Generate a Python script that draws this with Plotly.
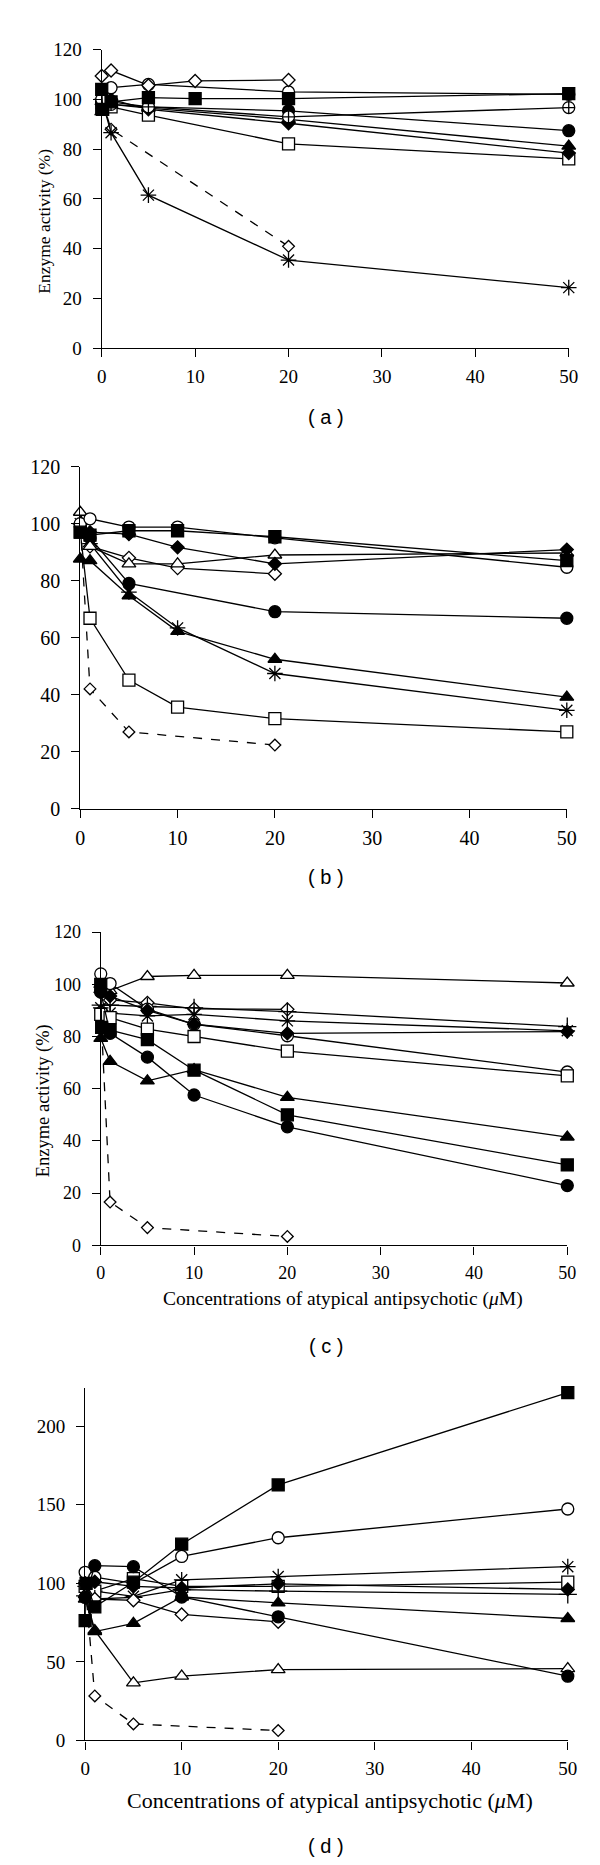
import plotly.graph_objects as go

# Concentrations (uM)
CONC = [0, 0.1, 1, 5, 10, 20, 50]
X_TICKS = [0, 10, 20, 30, 40, 50]
Y_TICKS_ABC = [0, 20, 40, 60, 80, 100, 120]
Y_TICKS_D = [0, 50, 100, 150, 200]

# ---- Panel (a) ----
a_dash_diamond = [100, None, 88, None, None, 40.9, None]
a_asterisk = [100, None, 86.6, 61.5, None, 35.4, 24.3]
a_open_square = [97, None, 97, 93.7, None, 82.1, 76.1]
a_filled_square = [104, 96, 99, 100.7, 100.3, 100.3, 102.3]
a_open_circle = [100, None, 104.7, 106, None, 103, 102]
a_circle_cross = [97, None, 98, 97, None, 93, 96.7]
a_filled_circle = [99, None, 99, 97, None, 95.4, 87.4]
a_filled_triangle = [95, None, 98, 96.5, None, 92, 81.2]
a_filled_diamond = [98, None, 100, 96, None, 90.4, 78.4]
a_open_diamond = [109.4, None, 111.6, 105.6, 107.4, 107.8, None]

# ---- Panel (b) ----
b_dash_diamond = [100, None, 42, 26.9, None, 22.3, None]
b_open_square = [97, None, 66.8, 45.1, 35.6, 31.6, 26.9]
b_asterisk = [100, None, 93, 76, 63.4, 47.4, 34.5]
b_filled_triangle = [87.6, None, 87, 74.7, 62.2, 52.4, 39.1]
b_filled_circle = [99, None, 95, 79, None, 69.1, 66.8]
b_open_diamond = [100, None, 92, 88, 84.4, 82.4, None]
b_open_triangle = [104, None, 92, 85.9, 85.9, 89, 89.7]
b_filled_diamond = [100, None, 97, 96.3, 91.7, 85.9, 90.9]
b_filled_square = [97, None, 96, 97.5, 97.5, 95.4, 87]
b_open_circle = [100, None, 101.7, 98.8, 98.8, 95, 84.7]

# ---- Panel (c) ----
c_dash_diamond = [90, None, 16.6, 6.8, None, 3.4, None]
c_open_triangle = [100, None, 97.6, 103, 103.4, 103.4, 100.5]
c_open_diamond = [97, None, 94, 92.9, 90.6, 90.4, None]
c_cross = [92, None, 92, 91.5, 91, 89.5, 83.8]
c_asterisk = [91, None, 89, 87.9, 88.5, 86, 82.2]
c_filled_diamond = [97, None, 95.5, 90, 84.7, 81.2, 81.9]
c_open_circle = [104, None, 100.3, 90.5, 84.7, 80.3, 66.4]
c_open_square = [88.5, None, 87.2, 82.8, 80, 74.4, 64.9]
c_filled_square = [100, 83.5, 82.4, 78.8, 67.1, 50, 30.8]
c_filled_circle = [97, None, 81.2, 72.1, 57.6, 45.4, 22.9]
c_filled_triangle = [79.3, None, 70.5, 63, 67.3, 56.7, 41.5]

# ---- Panel (d) ----
d_dash_diamond = [100, None, 28.3, 10.5, None, 6.3, None]
d_filled_square = [76.2, 100, 85, 100.7, 124.9, 162.6, 221.4]
d_open_circle = [107, None, 103.9, 100, 117.1, 129, 147.3]
d_asterisk = [98, None, 95, 91.7, 102.2, 104.3, 110.6]
d_open_square = [98, None, 95, 103, 98, 98, 100.7]
d_filled_diamond = [100, None, 101, 98, 97, 99.7, 96.1]
d_cross = [92, None, 90, 91, 96, 95, 93]
d_filled_circle = [91, None, 111.2, 110.6, 91.3, 78.7, 40.9]
d_filled_triangle = [90, None, 69.3, 74.5, 91.3, 87.5, 77.6]
d_open_triangle = [93, None, 70, 36.7, 40.9, 45.1, 45.7]
d_open_diamond = [100, None, 90, 89.2, 80.2, 75.5, None]

STYLES = {
    "dash_diamond": dict(symbol="diamond", color="white", size=9, dash="dash"),
    "asterisk": dict(symbol="asterisk-open", color="black", size=13, dash="solid"),
    "cross": dict(symbol="cross-thin-open", color="black", size=13, dash="solid"),
    "open_square": dict(symbol="square", color="white", size=12, dash="solid"),
    "filled_square": dict(symbol="square", color="black", size=12, dash="solid"),
    "open_circle": dict(symbol="circle", color="white", size=12, dash="solid"),
    "circle_cross": dict(symbol="circle-cross", color="white", size=12, dash="solid"),
    "filled_circle": dict(symbol="circle", color="black", size=12, dash="solid"),
    "filled_triangle": dict(symbol="triangle-up", color="black", size=12, dash="solid"),
    "open_triangle": dict(symbol="triangle-up", color="white", size=12, dash="solid"),
    "filled_diamond": dict(symbol="diamond", color="black", size=10, dash="solid"),
    "open_diamond": dict(symbol="diamond", color="white", size=10, dash="solid"),
}

PANELS = [
    ("a", [("dash_diamond", a_dash_diamond), ("asterisk", a_asterisk), ("open_square", a_open_square),
           ("filled_circle", a_filled_circle), ("filled_triangle", a_filled_triangle),
           ("filled_diamond", a_filled_diamond), ("circle_cross", a_circle_cross),
           ("open_circle", a_open_circle), ("open_diamond", a_open_diamond),
           ("filled_square", a_filled_square)]),
    ("b", [("dash_diamond", b_dash_diamond), ("open_square", b_open_square), ("asterisk", b_asterisk),
           ("filled_triangle", b_filled_triangle), ("filled_circle", b_filled_circle),
           ("open_diamond", b_open_diamond), ("open_triangle", b_open_triangle),
           ("filled_diamond", b_filled_diamond), ("open_circle", b_open_circle),
           ("filled_square", b_filled_square)]),
    ("c", [("dash_diamond", c_dash_diamond), ("open_triangle", c_open_triangle),
           ("open_diamond", c_open_diamond), ("cross", c_cross), ("asterisk", c_asterisk),
           ("open_circle", c_open_circle), ("filled_diamond", c_filled_diamond),
           ("open_square", c_open_square), ("filled_square", c_filled_square),
           ("filled_circle", c_filled_circle), ("filled_triangle", c_filled_triangle)]),
    ("d", [("dash_diamond", d_dash_diamond), ("open_circle", d_open_circle), ("asterisk", d_asterisk),
           ("open_square", d_open_square), ("cross", d_cross), ("filled_diamond", d_filled_diamond),
           ("open_triangle", d_open_triangle), ("open_diamond", d_open_diamond),
           ("filled_triangle", d_filled_triangle), ("filled_circle", d_filled_circle),
           ("filled_square", d_filled_square)]),
]

W, H = 600, 1865
# plot-area boxes in pixels: (x_left, x_right, y_top, y_bottom)
BOXES = {
    "a": (91, 570, 31, 333),
    "b": (69, 568, 453, 799),
    "c": (90, 568.5, 924, 1241),
    "d": (74, 569, 1385, 1742),
}
Y_RANGES = {"a": [0, 120], "b": [0, 120], "c": [0, 120], "d": [0, 224.5]}
Y_TICKVALS = {"a": Y_TICKS_ABC, "b": Y_TICKS_ABC, "c": Y_TICKS_ABC, "d": Y_TICKS_D}
TICK_FONT = {"a": 19, "b": 20, "c": 18, "d": 19}

SERIF = "Liberation Serif, Times New Roman, serif"
SANS = "Liberation Sans, Arial, sans-serif"

fig = go.Figure()
layout = dict(width=W, height=H, margin=dict(l=0, r=0, t=0, b=0),
              paper_bgcolor="white", plot_bgcolor="white", showlegend=False)

for i, (name, series) in enumerate(PANELS, start=1):
    xs = "x" if i == 1 else f"x{i}"
    ys = "y" if i == 1 else f"y{i}"
    for key, vals in series:
        st = STYLES[key]
        fig.add_trace(go.Scatter(
            x=CONC, y=vals, xaxis=xs, yaxis=ys, mode="lines+markers",
            connectgaps=True, cliponaxis=False,
            line=dict(color="black", width=1.3, dash=st["dash"]),
            marker=dict(symbol=st["symbol"], color=st["color"], size=st["size"],
                        line=dict(color="black", width=1.3)),
        ))
    xl, xr, yt, yb = BOXES[name]
    axkey = "xaxis" if i == 1 else f"xaxis{i}"
    aykey = "yaxis" if i == 1 else f"yaxis{i}"
    layout[axkey] = dict(
        domain=[xl / W, xr / W], anchor=ys, range=[0, 50], tickvals=X_TICKS,
        showline=True, linecolor="black", linewidth=1.3, ticks="outside",
        ticklen=8, tickwidth=1.3, tickcolor="black", showgrid=False, zeroline=False,
        ticklabelstandoff=3,
        tickfont=dict(family=SERIF, size=TICK_FONT[name], color="black"),
    )
    layout[aykey] = dict(
        domain=[1 - yb / H, 1 - yt / H], anchor=xs, range=Y_RANGES[name],
        tickvals=Y_TICKVALS[name],
        showline=True, linecolor="black", linewidth=1.3, ticks="outside",
        ticklen=8, tickwidth=1.3, tickcolor="black", showgrid=False, zeroline=False,
        ticklabelstandoff=7,
        tickfont=dict(family=SERIF, size=TICK_FONT[name], color="black"),
    )

fig.update_layout(**layout)

annotations = []
# panel labels
for label, py in [("a", 403), ("b", 868), ("c", 1343), ("d", 1849)]:
    annotations.append(dict(text=f"( {label} )", x=321 / W, y=1 - py / H, xref="paper", yref="paper",
                            showarrow=False, font=dict(family=SANS, size=20, color="black"),
                            xanchor="center", yanchor="middle"))
# y-axis titles
for py, fs in [(205, 17.5), (1095, 18.5)]:
    annotations.append(dict(text="Enzyme activity (%)", x=31 / W, y=1 - py / H, xref="paper", yref="paper",
                            showarrow=False, textangle=-90,
                            font=dict(family=SERIF, size=fs, color="black"),
                            xanchor="center", yanchor="middle"))
# x-axis titles
for px, py, fs in [(338, 1295, 19.5), (325, 1803, 22)]:
    annotations.append(dict(text="Concentrations of atypical antipsychotic (<i>\u03bc</i>M)",
                            x=px / W, y=1 - py / H, xref="paper", yref="paper",
                            showarrow=False, font=dict(family=SERIF, size=fs, color="black"),
                            xanchor="center", yanchor="middle"))
fig.update_layout(annotations=annotations)

fig.write_html("out.html")
